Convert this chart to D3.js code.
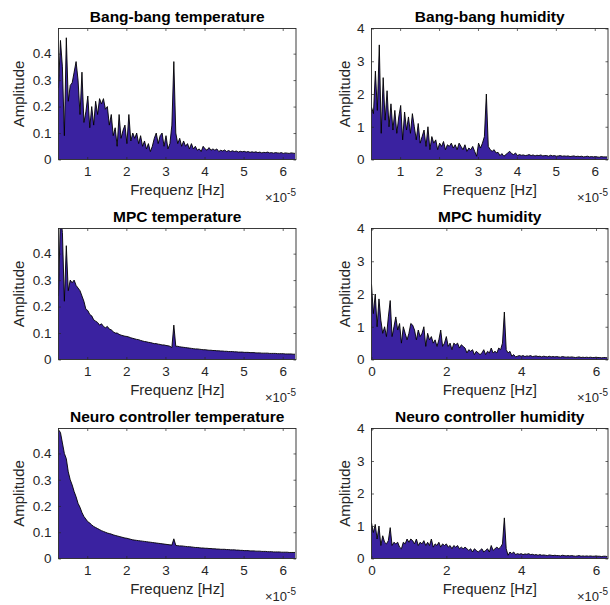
<!DOCTYPE html>
<html><head><meta charset="utf-8">
<script src="https://cdn.jsdelivr.net/npm/d3@7"></script>
<style>
body{margin:0;background:#fff}
svg{display:block;font-family:"Liberation Sans",Arial,Helvetica,sans-serif}
</style>
</head><body>
<svg id="chart" width="610" height="605"></svg>
<script>
// ---------- DATA (amplitude, frequency in 1e-5 Hz) ----------
const titles = ["Bang-bang temperature","Bang-bang humidity","MPC temperature","MPC humidity","Neuro controller temperature","Neuro controller humidity"];
const xLabel = "Frequenz [Hz]";
const yLabel = "Amplitude";
const tempYTicks = [0,0.1,0.2,0.3,0.4];
const humYTicks = [0,1,2,3,4];
const xTicksFrom1 = [1,2,3,4,5,6];
const xTicksFrom0 = [0,2,4,6];
const binStep = 0.05;            // frequency resolution of the arrays below
const startShifted = 0.265;      // first bin of the shifted spectra
const startZero = 0;             // first bin of the zero-based spectra

const bangTemp = [
0.27,0.45,0.35,0.09,0.46,0.22,0.28,0.29,0.33,0.37,
0.30,0.17,0.33,0.14,0.18,0.24,0.12,0.20,0.13,0.22,
0.17,0.23,0.21,0.23,0.19,0.20,0.13,0.17,0.09,0.12,
0.05,0.17,0.08,0.11,0.13,0.06,0.17,0.07,0.10,0.08,
0.10,0.06,0.09,0.05,0.07,0.04,0.06,0.03,0.05,0.08,
0.10,0.06,0.09,0.10,0.05,0.09,0.04,0.06,0.13,0.37,
0.10,0.06,0.08,0.05,0.07,0.05,0.06,0.04,0.06,0.04,
0.05,0.035,0.04,0.03,0.05,0.04,0.035,0.045,0.035,0.04,
0.035,0.04,0.03,0.035,0.032,0.036,0.03,0.034,0.03,0.033,
0.03,0.032,0.028,0.031,0.029,0.031,0.028,0.03,0.027,0.029,
0.027,0.029,0.026,0.028,0.025,0.027,0.026,0.028,0.025,0.026,
0.024,0.026,0.025,0.024,0.026,0.023,0.025,0.024,0.023,0.025,0.024,0.023];

const bangHum = [
1.6,1.4,2.7,1.5,3.5,0.8,2.5,1.2,2.1,1.0,
1.7,0.9,1.5,0.8,1.3,1.65,0.6,1.45,0.9,1.3,
0.8,1.4,1.0,0.6,1.1,0.5,0.7,0.9,0.4,1.0,
0.3,0.7,0.5,0.6,0.3,0.5,0.4,0.55,0.3,0.45,
0.4,0.5,0.35,0.45,0.3,0.5,0.4,0.3,0.45,0.25,
0.35,0.3,0.4,0.25,0.1,0.5,0.35,0.5,0.7,2.0,
0.4,0.3,0.25,0.3,0.2,0.22,0.12,0.18,0.1,0.15,
0.2,0.25,0.18,0.15,0.2,0.12,0.15,0.13,0.14,0.12,
0.13,0.15,0.12,0.14,0.11,0.13,0.12,0.14,0.11,0.12,
0.12,0.1,0.13,0.11,0.12,0.1,0.11,0.12,0.1,0.11,
0.1,0.11,0.09,0.1,0.11,0.09,0.1,0.09,0.1,0.08,
0.09,0.1,0.08,0.09,0.08,0.09,0.08,0.07,0.09,0.08,0.08,0.08];

const mpcTemp = [
0.24,0.55,0.48,0.22,0.43,0.26,0.30,0.29,0.30,0.28,
0.27,0.26,0.24,0.22,0.19,0.185,0.17,0.165,0.15,0.145,
0.14,0.13,0.135,0.125,0.12,0.125,0.115,0.112,0.105,0.1,
0.1,0.095,0.092,0.09,0.088,0.087,0.085,0.082,0.08,0.078,
0.076,0.075,0.072,0.07,0.068,0.067,0.065,0.064,0.062,0.06,
0.06,0.058,0.057,0.055,0.055,0.053,0.052,0.05,0.045,0.13,
0.05,0.05,0.048,0.047,0.046,0.045,0.044,0.043,0.042,0.041,
0.04,0.04,0.039,0.038,0.037,0.037,0.036,0.035,0.035,0.034,
0.034,0.033,0.033,0.032,0.032,0.031,0.031,0.03,0.03,0.03,
0.029,0.029,0.028,0.028,0.028,0.027,0.027,0.027,0.026,0.026,
0.026,0.025,0.025,0.025,0.024,0.024,0.024,0.024,0.023,0.023,
0.023,0.023,0.022,0.022,0.022,0.022,0.021,0.021,0.021,0.021,0.02,0.02];

const mpcHum = [
2.3,1.4,2.0,1.0,1.85,1.2,0.8,1.0,0.7,1.3,
1.8,0.7,1.0,1.3,0.9,1.1,0.5,1.0,0.8,0.6,
0.8,1.1,1.05,0.9,0.6,0.9,0.7,0.8,1.0,0.4,
0.8,0.6,0.7,0.5,0.6,0.4,0.6,0.9,0.4,0.5,
0.7,0.4,0.5,0.3,0.5,0.45,0.5,0.35,0.45,0.4,
0.35,0.2,0.3,0.25,0.3,0.15,0.25,0.2,0.15,0.2,
0.3,0.15,0.25,0.2,0.35,0.2,0.25,0.2,0.35,0.3,
0.5,1.45,0.3,0.2,0.25,0.1,0.15,0.08,0.1,0.12,
0.1,0.12,0.09,0.11,0.1,0.12,0.09,0.1,0.11,0.09,
0.1,0.08,0.1,0.09,0.08,0.1,0.08,0.09,0.08,0.09,
0.08,0.07,0.09,0.08,0.07,0.08,0.07,0.08,0.07,0.06,
0.07,0.08,0.06,0.07,0.06,0.07,0.06,0.07,0.06,0.06,
0.07,0.06,0.06,0.05,0.06,0.06,0.05];

const neuroTemp = [
0.49,0.48,0.44,0.40,0.38,0.33,0.30,0.28,0.255,0.235,
0.21,0.195,0.175,0.16,0.15,0.14,0.135,0.128,0.122,0.118,
0.114,0.11,0.106,0.103,0.1,0.097,0.095,0.093,0.09,0.088,
0.086,0.084,0.082,0.08,0.078,0.077,0.075,0.073,0.071,0.07,
0.069,0.068,0.067,0.066,0.065,0.064,0.063,0.062,0.061,0.06,
0.059,0.058,0.057,0.056,0.055,0.054,0.053,0.052,0.051,0.075,
0.05,0.049,0.048,0.048,0.047,0.046,0.045,0.045,0.044,0.043,
0.042,0.042,0.041,0.04,0.04,0.039,0.039,0.038,0.038,0.037,
0.037,0.036,0.036,0.035,0.035,0.035,0.034,0.034,0.033,0.033,
0.033,0.032,0.032,0.031,0.031,0.03,0.03,0.03,0.029,0.029,
0.029,0.028,0.028,0.028,0.027,0.027,0.027,0.026,0.026,0.026,
0.025,0.025,0.025,0.025,0.024,0.024,0.024,0.024,0.023,0.023,0.023,0.023];

const neuroHum = [
1.1,0.8,1.05,0.6,1.0,0.4,0.7,0.5,0.45,0.55,
0.95,0.4,0.5,0.45,0.5,0.35,0.3,0.5,0.45,0.6,
0.5,0.6,0.55,0.45,0.6,0.4,0.5,0.45,0.55,0.4,
0.5,0.4,0.6,0.35,0.45,0.4,0.5,0.35,0.45,0.4,
0.45,0.35,0.4,0.3,0.4,0.35,0.4,0.3,0.35,0.3,
0.35,0.3,0.25,0.3,0.2,0.3,0.25,0.2,0.25,0.3,
0.2,0.25,0.3,0.2,0.4,0.25,0.3,0.35,0.3,0.35,
0.45,1.25,0.3,0.1,0.2,0.15,0.2,0.12,0.15,0.13,
0.15,0.12,0.14,0.13,0.15,0.12,0.13,0.11,0.12,0.1,
0.12,0.1,0.11,0.1,0.09,0.11,0.1,0.09,0.1,0.09,
0.09,0.08,0.1,0.09,0.08,0.09,0.08,0.09,0.08,0.07,
0.08,0.09,0.07,0.08,0.07,0.08,0.07,0.08,0.07,0.07,
0.08,0.07,0.07,0.06,0.07,0.07,0.06];

// ---------- LAYOUT ----------
const cols = [[58.5,296],[371.5,608]];
const rows = [[28.5,159.5],[228.5,359.5],[428.5,558.5]];
const fillColor = "#3a22a0";
const axisColor = "#262626";

const panels = [
  {title:titles[0], values:bangTemp, start:startShifted, xDom:[0.265,6.34], yDom:[0,0.495], xT:xTicksFrom1, yT:tempYTicks, c:0, r:0},
  {title:titles[1], values:bangHum,  start:startShifted, xDom:[0.265,6.34], yDom:[0,4],     xT:xTicksFrom1, yT:humYTicks,  c:1, r:0},
  {title:titles[2], values:mpcTemp,  start:startShifted, xDom:[0.265,6.34], yDom:[0,0.495], xT:xTicksFrom1, yT:tempYTicks, c:0, r:1},
  {title:titles[3], values:mpcHum,   start:startZero,    xDom:[0,6.32],     yDom:[0,4],     xT:xTicksFrom0, yT:humYTicks,  c:1, r:1},
  {title:titles[4], values:neuroTemp,start:startShifted, xDom:[0.265,6.34], yDom:[0,0.495], xT:xTicksFrom1, yT:tempYTicks, c:0, r:2},
  {title:titles[5], values:neuroHum, start:startZero,    xDom:[0,6.32],     yDom:[0,4],     xT:xTicksFrom0, yT:humYTicks,  c:1, r:2}
];

const svg = d3.select("#chart");

panels.forEach((p, k) => {
  const [x0, x1] = cols[p.c];
  const [y0, y1] = rows[p.r];
  const x = d3.scaleLinear().domain(p.xDom).range([x0, x1]);
  const y = d3.scaleLinear().domain(p.yDom).range([y1, y0]);
  const pts = p.values.map((v, i) => ({f: p.start + i * binStep, a: v}))
                      .filter(d => d.f <= p.xDom[1] + 1e-9);
  const g = svg.append("g");

  g.append("clipPath").attr("id", "clip" + k)
    .append("rect").attr("x", x0).attr("y", y0).attr("width", x1 - x0).attr("height", y1 - y0);

  const area = d3.area().x(d => x(d.f)).y0(y(0)).y1(d => y(d.a));
  const line = d3.line().x(d => x(d.f)).y(d => y(d.a));
  const plot = g.append("g").attr("clip-path", `url(#clip${k})`);
  plot.append("path").datum(pts).attr("d", area).attr("fill", fillColor);
  plot.append("path").datum(pts).attr("d", line).attr("fill", "none")
      .attr("stroke", "#000").attr("stroke-width", 0.9).attr("stroke-linejoin", "round");

  const fmt = d => (d === 0 ? "0" : (p.yDom[1] < 1 ? d3.format(".1f")(d) : String(d)));
  const ax = g.append("g").attr("transform", `translate(0,${y1})`)
    .call(d3.axisBottom(x).tickValues(p.xT).tickSizeInner(-2.5).tickSizeOuter(0).tickPadding(7).tickFormat(d3.format("d")));
  const ay = g.append("g").attr("transform", `translate(${x0},0)`)
    .call(d3.axisLeft(y).tickValues(p.yT).tickSizeInner(-2.5).tickSizeOuter(0).tickPadding(7).tickFormat(fmt));
  const at = g.append("g").attr("transform", `translate(0,${y0})`)
    .call(d3.axisTop(x).tickValues(p.xT).tickSizeInner(-2.5).tickSizeOuter(0).tickFormat(""));
  const ar = g.append("g").attr("transform", `translate(${x1},0)`)
    .call(d3.axisRight(y).tickValues(p.yT).tickSizeInner(-2.5).tickSizeOuter(0).tickFormat(""));
  [ax, ay, at, ar].forEach(a => {
    a.select(".domain").remove();
    a.selectAll("line").attr("stroke", axisColor).attr("stroke-width", 0.7);
    a.selectAll("text").attr("fill", axisColor).style("font-size", "13.5px")
      .style("font-family", '"Liberation Sans",Arial,sans-serif');
  });

  g.append("rect").attr("x", x0).attr("y", y0).attr("width", x1 - x0).attr("height", y1 - y0)
    .attr("fill", "none").attr("stroke", axisColor).attr("stroke-width", 0.9);

  g.append("text").attr("x", (x0 + x1) / 2).attr("y", y0 - 7).attr("text-anchor", "middle")
    .attr("fill", "#000").style("font-size", "15.5px").style("font-weight", "bold").text(p.title);

  g.append("text").attr("x", (x0 + x1) / 2).attr("y", y1 + 35).attr("text-anchor", "middle")
    .attr("fill", axisColor).style("font-size", "15px").text(xLabel);

  const ex = g.append("text").attr("x", x1).attr("y", y1 + 42.5).attr("text-anchor", "end")
    .attr("fill", axisColor).style("font-size", "13px");
  ex.append("tspan").text("\u00d710");
  ex.append("tspan").attr("dy", -6).style("font-size", "10px").text("-5");

  const yl = p.c === 0 ? 24 : 350;
  g.append("text").attr("transform", `translate(${yl},${(y0 + y1) / 2}) rotate(-90)`)
    .attr("text-anchor", "middle").attr("fill", axisColor).style("font-size", "15px").text(yLabel);
});
</script>
</body></html>
